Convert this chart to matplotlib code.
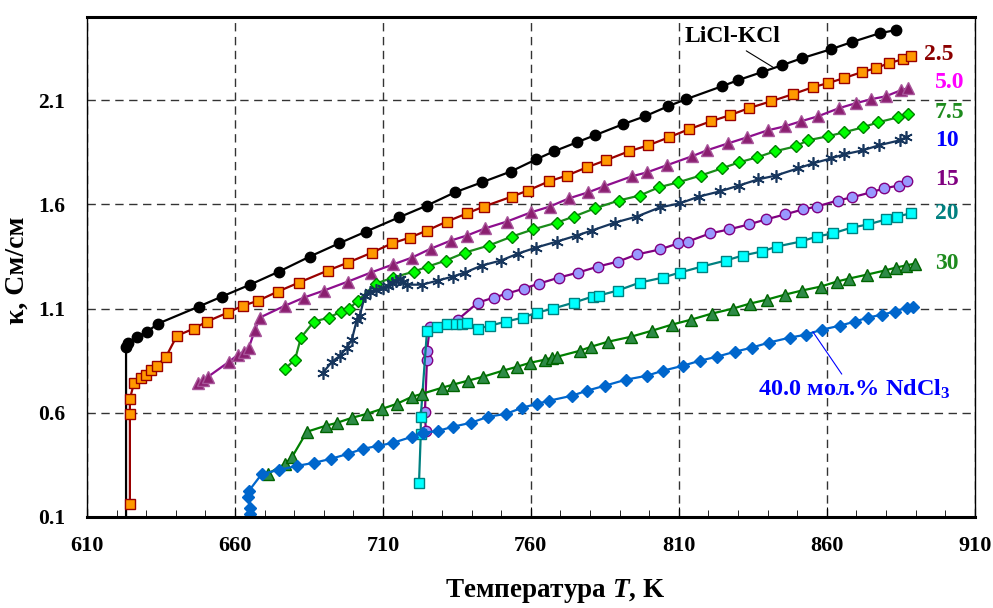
import numpy as np
import matplotlib
matplotlib.use('Agg')
import matplotlib.pyplot as plt
from matplotlib.ticker import MultipleLocator

plt.rcParams['font.family'] = ['Liberation Serif', 'DejaVu Serif']
plt.rcParams['font.weight'] = 'bold'
plt.rcParams['mathtext.fontset'] = 'custom'
plt.rcParams['mathtext.rm'] = 'Liberation Serif:bold'
plt.rcParams['mathtext.it'] = 'Liberation Serif:italic:bold'
plt.rcParams['mathtext.bf'] = 'Liberation Serif:bold'

# LiCl-KCl (first point is the vertical drop to the axis)
T_0 = [623.2, 623.2, 623.9, 626.9, 630.3, 634.0, 647.8, 655.6, 665.1, 674.9, 685.3, 695.1, 704.3, 715.4,
       724.9, 734.3, 743.4, 753.2, 761.7, 767.8, 775.5, 781.6, 791.1, 798.5, 806.3, 812.4, 824.5,
       829.9, 838.0, 844.8, 851.6, 861.4, 868.4, 877.9, 883.3]
k_0 = [0.10, 0.917, 0.937, 0.965, 0.989, 1.028, 1.110, 1.158, 1.215, 1.278, 1.350, 1.413, 1.470, 1.538,
       1.595, 1.658, 1.706, 1.758, 1.816, 1.855, 1.898, 1.932, 1.985, 2.023, 2.071, 2.105, 2.167,
       2.196, 2.235, 2.268, 2.302, 2.345, 2.379, 2.422, 2.437]

# 2.5 mol.%
T_25 = [624.5, 624.5, 624.5, 625.9, 628.2, 629.9, 631.6, 633.6, 636.7, 640.4, 646.1, 650.5, 657.6, 662.7,
        667.8, 674.5, 681.6, 691.4, 698.2, 706.3, 713.0, 719.1, 724.9, 731.6, 738.4, 744.1, 753.6,
        759.0, 766.1, 772.2, 778.9, 785.3, 793.1, 799.7, 806.6, 813.4, 820.8, 827.2, 833.6, 841.1,
        848.5, 855.3, 860.3, 865.7, 871.8, 876.6, 880.9, 885.7, 888.4]
k_25 = [0.163, 0.595, 0.667, 0.744, 0.768, 0.783, 0.807, 0.826, 0.869, 0.970, 1.004, 1.038, 1.081, 1.114,
        1.138, 1.182, 1.225, 1.283, 1.321, 1.369, 1.413, 1.441, 1.475, 1.518, 1.557, 1.590, 1.638,
        1.667, 1.711, 1.739, 1.778, 1.812, 1.855, 1.884, 1.922, 1.961, 1.999, 2.028, 2.062, 2.095,
        2.129, 2.163, 2.182, 2.206, 2.235, 2.254, 2.278, 2.297, 2.312]

# 5.0 mol.%
T_50 = [647.5, 649.2, 650.9, 658.0, 661.0, 663.0, 664.7, 666.8, 668.4, 676.9, 683.3, 690.1, 698.2, 705.9,
        713.4, 719.8, 726.2, 733.0, 738.4, 744.5, 751.9, 760.0, 766.4, 772.8, 779.3, 784.7, 794.1,
        799.2, 805.9, 814.4, 819.5, 826.6, 833.0, 840.1, 845.8, 851.2, 857.0, 864.1, 869.8, 874.9,
        879.9, 885.0, 887.4]
k_50 = [0.744, 0.759, 0.773, 0.845, 0.879, 0.893, 0.913, 0.999, 1.057, 1.114, 1.153, 1.187, 1.230, 1.273,
        1.312, 1.345, 1.388, 1.427, 1.451, 1.485, 1.518, 1.562, 1.590, 1.629, 1.658, 1.687, 1.735,
        1.754, 1.788, 1.831, 1.860, 1.893, 1.922, 1.956, 1.975, 1.999, 2.023, 2.062, 2.086, 2.105,
        2.119, 2.148, 2.158]

# 7.5 mol.%
T_75 = [676.9, 680.3, 682.3, 686.7, 691.8, 695.8, 698.5, 701.6, 707.6, 713.4, 720.5, 725.2, 731.3, 737.7,
        745.8, 753.6, 760.7, 768.8, 774.5, 781.6, 789.7, 796.8, 803.2, 809.7, 817.4, 824.5, 830.3,
        836.4, 842.4, 849.5, 853.6, 860.3, 865.7, 872.2, 877.2, 884.0, 887.4]
k_75 = [0.812, 0.855, 0.961, 1.038, 1.057, 1.086, 1.100, 1.138, 1.220, 1.249, 1.278, 1.302, 1.331, 1.369,
        1.403, 1.446, 1.480, 1.513, 1.542, 1.581, 1.619, 1.643, 1.682, 1.706, 1.739, 1.773, 1.802,
        1.826, 1.855, 1.879, 1.908, 1.927, 1.946, 1.970, 1.994, 2.018, 2.033]

# 10 mol.%
T_10 = [689.7, 692.8, 695.5, 697.8, 699.5, 701.2, 702.2, 703.9, 705.6, 707.6, 710.0, 711.7, 713.0, 714.4,
        715.7, 716.8, 718.1, 723.2, 728.6, 733.6, 737.7, 743.4, 749.9, 755.6, 761.7, 768.8, 775.5,
        780.6, 788.4, 795.8, 803.6, 810.3, 816.8, 823.9, 830.3, 836.7, 842.8, 850.2, 855.3, 861.4,
        865.7, 872.2, 877.6, 884.7, 886.7]
k_10 = [0.792, 0.845, 0.874, 0.913, 0.951, 1.047, 1.066, 1.163, 1.182, 1.191, 1.201, 1.211, 1.225, 1.235,
        1.244, 1.230, 1.215, 1.215, 1.235, 1.254, 1.273, 1.307, 1.331, 1.364, 1.393, 1.422, 1.451,
        1.475, 1.513, 1.542, 1.586, 1.605, 1.638, 1.663, 1.691, 1.720, 1.739, 1.773, 1.797, 1.821,
        1.840, 1.860, 1.884, 1.908, 1.922]

# 15 mol.%
T_15 = [724.5, 724.2, 724.9, 724.9, 725.9, 735.3, 742.1, 747.5, 751.9, 757.6, 762.7, 769.5, 775.9, 782.7,
        789.5, 795.8, 803.6, 809.7, 813.1, 820.5, 826.9, 833.6, 839.4, 845.8, 851.9, 856.6, 863.7,
        868.4, 874.9, 879.3, 884.3, 887.0]
k_15 = [0.513, 0.605, 0.855, 0.898, 1.013, 1.047, 1.129, 1.153, 1.172, 1.196, 1.220, 1.249, 1.273, 1.302,
        1.326, 1.360, 1.384, 1.413, 1.422, 1.461, 1.480, 1.504, 1.528, 1.552, 1.576, 1.590, 1.619,
        1.634, 1.658, 1.677, 1.691, 1.711]

# 20 mol.%
T_20 = [722.2, 722.8, 722.8, 724.9, 728.2, 731.6, 734.7, 736.7, 738.4, 742.1, 746.1, 751.6, 757.3, 762.0,
        767.4, 774.5, 780.9, 783.0, 789.4, 796.8, 804.6, 810.3, 817.8, 825.9, 831.6, 838.0, 843.1,
        851.2, 856.6, 862.0, 868.4, 873.9, 880.0, 883.6, 888.4]
k_20 = [0.263, 0.499, 0.581, 0.994, 1.013, 1.028, 1.028, 1.028, 1.033, 1.004, 1.018, 1.038, 1.057, 1.081,
        1.100, 1.129, 1.158, 1.163, 1.187, 1.225, 1.249, 1.273, 1.302, 1.331, 1.355, 1.374, 1.398,
        1.422, 1.446, 1.461, 1.489, 1.504, 1.528, 1.542, 1.557]

# 30 mol.%
T_30 = [671.1, 676.9, 679.3, 684.3, 690.7, 694.5, 699.5, 704.6, 709.7, 714.7, 719.8, 723.2, 729.9, 733.6,
        738.7, 743.8, 750.5, 755.3, 759.7, 764.7, 767.1, 768.8, 776.6, 780.3, 786.0, 793.8, 800.9,
        807.6, 814.1, 821.1, 828.2, 834.0, 839.7, 845.8, 851.6, 858.0, 863.4, 867.4, 873.5, 879.6,
        883.3, 886.7, 889.7]
k_30 = [0.307, 0.355, 0.388, 0.509, 0.538, 0.552, 0.576, 0.595, 0.619, 0.643, 0.677, 0.691, 0.720, 0.735,
        0.754, 0.773, 0.802, 0.821, 0.840, 0.855, 0.864, 0.869, 0.898, 0.917, 0.941, 0.965, 0.994,
        1.023, 1.047, 1.076, 1.100, 1.124, 1.143, 1.167, 1.187, 1.206, 1.230, 1.244, 1.263, 1.283,
        1.297, 1.307, 1.316]

# 40 mol.%
T_40 = [665.1, 665.1, 664.4, 664.7, 669.1, 674.9, 680.9, 686.7, 692.4, 698.2, 703.2, 708.3, 713.4, 719.8,
        723.5, 728.6, 733.6, 739.7, 745.5, 751.6, 757.0, 762.0, 766.1, 773.9, 778.9, 785.0, 792.1,
        799.2, 804.6, 811.4, 817.1, 822.8, 828.9, 834.7, 840.4, 847.5, 852.9, 858.3, 864.4, 869.5,
        873.9, 878.6, 883.0, 887.0, 889.1]
k_40 = [0.114, 0.143, 0.196, 0.225, 0.307, 0.326, 0.345, 0.360, 0.379, 0.403, 0.427, 0.441, 0.456, 0.485,
        0.504, 0.513, 0.533, 0.552, 0.581, 0.595, 0.624, 0.643, 0.658, 0.682, 0.706, 0.730, 0.759,
        0.778, 0.802, 0.826, 0.850, 0.869, 0.893, 0.913, 0.937, 0.961, 0.975, 0.999, 1.018, 1.038,
        1.057, 1.071, 1.086, 1.105, 1.110]

x_ticks = [610, 660, 710, 760, 810, 860, 910]
y_ticks = [0.1, 0.6, 1.1, 1.6, 2.1]

fig = plt.figure(figsize=(9.93, 6.08), dpi=100)
ax = fig.add_axes([0.0876, 0.1497, 0.894, 0.8224])

ax.plot(T_0, k_0, color='black', lw=1.6, marker='o', markersize=7.5,
        markerfacecolor='black', markeredgecolor='black', markevery=list(range(1, len(T_0))))
ax.plot(T_25, k_25, color='#990000', lw=1.6, marker='s', markersize=7.5,
        markerfacecolor='#ff9900', markeredgecolor='#990000')
ax.plot(T_50, k_50, color='#8e0e8e', lw=1.6, marker='^', markersize=8.5,
        markerfacecolor='#8b1f70', markeredgecolor='#a8559a')
ax.plot(T_75, k_75, color='#1a8c1a', lw=1.6, marker='D', markersize=5.8,
        markerfacecolor='#00ff00', markeredgecolor='#008000')
ax.plot(T_10, k_10, color='#17365d', lw=1.6, marker=(6, 2, 0), markersize=9,
        markeredgewidth=1.2, markeredgecolor='#17365d')
ax.plot(T_15, k_15, color='#800080', lw=1.6, marker='o', markersize=7.5,
        markerfacecolor='#9999ff', markeredgecolor='#800080')
ax.plot(T_20, k_20, color='#008080', lw=1.6, marker='s', markersize=7.2,
        markerfacecolor='#00ffff', markeredgecolor='#008080')
ax.plot(T_30, k_30, color='#008000', lw=1.6, marker='^', markersize=8.5,
        markerfacecolor='#2e8b47', markeredgecolor='#006400')
ax.plot(T_40, k_40, color='#0066cc', lw=1.6, marker='D', markersize=6,
        markerfacecolor='#0066cc', markeredgecolor='#0066cc')

ax.set_xlim(610, 910)
ax.set_ylim(0.1, 2.5)
ax.set_xticks(x_ticks)
ax.xaxis.set_minor_locator(MultipleLocator(10))
ax.set_yticks(y_ticks)
ax.grid(True, which='major', linestyle=(0, (6, 4)), color='#333333', lw=1)
ax.tick_params(which='both', direction='in')
ax.tick_params(axis='x', which='major', length=7, pad=14, labelsize=16)
ax.tick_params(axis='x', which='minor', length=5)
ax.tick_params(axis='y', length=0, pad=16, labelsize=15.5)
ax.tick_params(top=False, right=False)
for lab in ax.get_xticklabels() + ax.get_yticklabels():
    lab.set_fontweight('bold')
for s in ['top', 'bottom']:
    ax.spines[s].set_linewidth(2.2)
for s in ['left', 'right']:
    ax.spines[s].set_linewidth(1.0)

ax.set_xlabel('Температура $T$, K', fontsize=19.5, fontweight='bold')
ax.set_ylabel('κ, См/см', fontsize=20, fontweight='bold')
ax.xaxis.set_label_coords(0.527, -0.12)
ax.yaxis.set_label_coords(-0.064, 0.494)

# series labels
lbl = dict(fontsize=17, fontweight='bold', va='center', ha='left')
ax.text(893.0, 2.321, '2.5', color='#8b0000', **lbl)
ax.text(896.5, 2.187, '5.0', color='#ff00ff', **lbl)
ax.text(896.5, 2.042, '7.5', color='#1e8b1e', **lbl)
ax.text(896.5, 1.908, '10', color='#0000ff', **lbl)
ax.text(896.5, 1.720, '15', color='#800080', **lbl)
ax.text(896.5, 1.557, '20', color='#008080', **lbl)
ax.text(896.5, 1.316, '30', color='#1e8b1e', **lbl)

ax.annotate('LiCl-KCl', xy=(841.8, 2.259), xytext=(812.0, 2.408),
            fontsize=17, fontweight='bold', color='black', va='center', ha='left',
            arrowprops=dict(arrowstyle='-', color='black', lw=0.8, relpos=(0.57, 0.0),
                            shrinkA=2, shrinkB=0))
ax.annotate('40.0 мол.% NdCl$_3$', xy=(855.3, 0.989), xytext=(836.7, 0.711),
            fontsize=17.5, fontweight='bold', color='#0000ff', va='center', ha='left',
            arrowprops=dict(arrowstyle='-', color='#0000ff', lw=0.8, relpos=(0.45, 1.0),
                            shrinkA=1, shrinkB=0))

fig.savefig('out.png', dpi=100)
